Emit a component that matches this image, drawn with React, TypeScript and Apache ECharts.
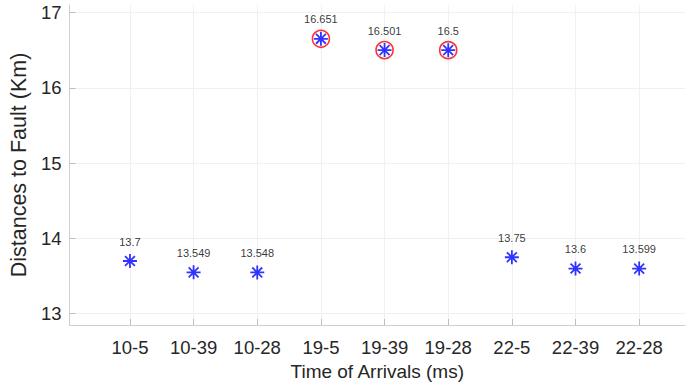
import React, { useEffect, useRef } from "react";
import * as echarts from "echarts";

const categories = ["10-5", "10-39", "10-28", "19-5", "19-39", "19-28", "22-5", "22-39", "22-28"];
const distances = [13.7, 13.549, 13.548, 16.651, 16.501, 16.5, 13.75, 13.6, 13.599];
const highlighted = [false, false, false, true, true, true, false, false, false];
const yTicks = [13, 14, 15, 16, 17];
const xTicks = categories.map((_, i) => i + 1);

const ASTERISK = "path://M0,-10L0,10M-10,0L10,0M-7.07,-7.07L7.07,7.07M-7.07,7.07L7.07,-7.07";

export default function App() {
  const ref = useRef<HTMLDivElement>(null);
  useEffect(() => {
    if (!ref.current) return;
    const chart = echarts.init(ref.current, null, { renderer: "svg" });
    const pts = distances.map((v, i) => [i + 1, v]);
    const hl = distances.map((v, i) => [i + 1, v]).filter((_, i) => highlighted[i]);
    const font = "'Liberation Sans', Arial, Helvetica, sans-serif";
    chart.setOption({
      animation: false,
      backgroundColor: "#ffffff",
      grid: { left: 65, right: 11, top: 5, bottom: 63, containLabel: false },
      xAxis: {
        type: "value",
        min: 0.05,
        max: 9.72,
        name: "Time of Arrivals (ms)",
        nameLocation: "middle",
        nameGap: 31,
        nameTextStyle: { fontFamily: font, fontSize: 19, color: "#262626" },
        axisLine: { show: true, lineStyle: { color: "#cfcfcf", width: 1 } },
        axisTick: { show: true, inside: true, length: 6, lineStyle: { color: "#bdbdbd" }, customValues: xTicks },
        axisLabel: {
          fontFamily: font,
          fontSize: 18.5,
          color: "#262626",
          margin: 13,
          customValues: xTicks,
          formatter: (v: number) => {
            const i = Math.round(v) - 1;
            return i >= 0 && i < categories.length ? categories[i] : "";
          },
        },
        splitLine: { show: true, lineStyle: { color: "#f0f0f0", width: 1 } },
      },
      yAxis: {
        type: "value",
        min: 12.85,
        max: 17.1,
        name: "Distances to Fault (Km)",
        nameLocation: "middle",
        nameGap: 30,
        nameTextStyle: { fontFamily: font, fontSize: 21.5, color: "#262626" },
        axisLine: { show: true, lineStyle: { color: "#cfcfcf", width: 1 } },
        axisTick: { show: true, inside: true, length: 6, lineStyle: { color: "#bdbdbd" }, customValues: yTicks },
        axisLabel: { fontFamily: font, fontSize: 18.5, color: "#262626", margin: 8, customValues: yTicks },
        splitLine: { show: true, lineStyle: { color: "#f0f0f0", width: 1 } },
      },
      series: [
        {
          type: "scatter",
          data: hl,
          symbol: "circle",
          symbolSize: 17,
          itemStyle: { color: "rgba(0,0,0,0)", borderColor: "#ff0000", borderWidth: 1.6 },
          z: 2,
        },
        {
          type: "scatter",
          data: pts,
          symbol: ASTERISK,
          symbolSize: 14,
          itemStyle: { color: "rgba(0,0,0,0)", borderColor: "#0000ff", borderWidth: 1.8 },
          label: {
            show: true,
            position: "top",
            distance: 6,
            fontFamily: font,
            fontSize: 11,
            color: "#000000",
            formatter: (p: any) => String(p.value[1]),
          },
          z: 3,
        },
      ],
    });
    return () => chart.dispose();
  }, []);
  return (
    <div
      ref={ref}
      style={{ position: "absolute", left: 0, top: 0, width: 696, height: 388 }}
    />
  );
}
